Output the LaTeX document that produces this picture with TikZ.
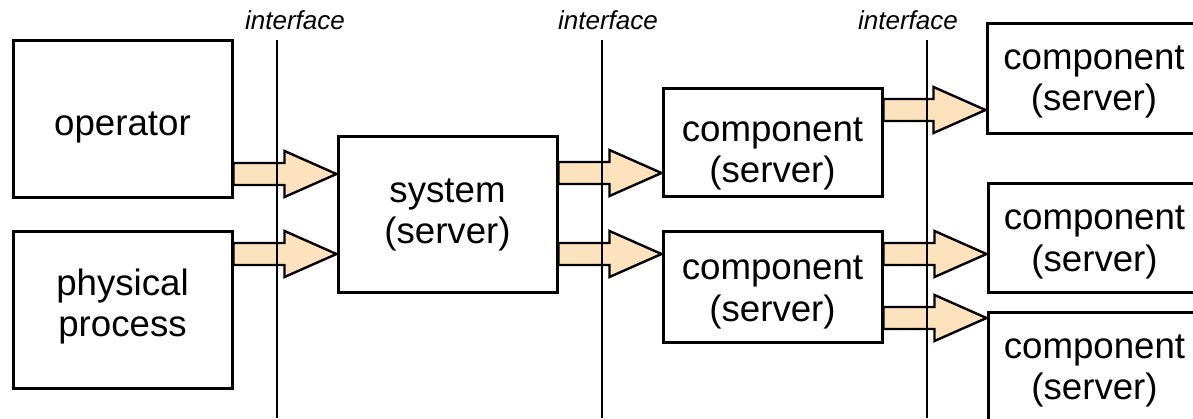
\documentclass[tikz,border=0pt]{standalone}
\usepackage{fontspec}
\setmainfont{Liberation Sans}
\usetikzlibrary{calc}
\definecolor{arrowfill}{RGB}{252,227,190}
\newcommand\pxu{0.75pt}
% wide block arrow from the east side of #1 to the west side of #2 at height #3
\newcommand\fatarrow[3]{%
  \coordinate (fa-y) at (0,#3);
  \coordinate (fa-s) at (#1.east |- fa-y);
  \coordinate (fa-e) at (#2.west |- fa-y);
  \draw[fat] ($(fa-s)+(0,-11)$) -- ($(fa-e)+(-52,-11)$) -- ($(fa-e)+(-52,-23)$)
    -- (fa-e) -- ($(fa-e)+(-52,23)$) -- ($(fa-e)+(-52,11)$) -- ($(fa-s)+(0,11)$) -- cycle;
}
\begin{document}
\begin{tikzpicture}[x=0.75pt,y=-0.75pt,
  box/.style={draw=black, line width=2.25pt, fill=white, inner sep=0pt},
  txt/.style={align=center, font=\fontsize{27.5}{31}\selectfont, inner sep=0pt},
  iface/.style={draw=black, line width=1.5pt},
  ilabel/.style={font=\fontsize{19.5}{22}\selectfont\itshape, anchor=base, inner sep=0pt},
  fat/.style={draw=black, line width=1.8pt, fill=arrowfill, line join=miter}]
\useasboundingbox (0,0) rectangle (1193,418);

% boxes
\node[box, minimum width=219*\pxu, minimum height=157*\pxu] (op) at (122.5,118.5) {};
\node[box, minimum width=219*\pxu, minimum height=157*\pxu] (pp) at (122.5,309.5) {};
\node[box, minimum width=219*\pxu, minimum height=156*\pxu] (sys) at (447.5,214) {};
\node[box, minimum width=219*\pxu, minimum height=108*\pxu] (c1) at (772.5,142) {};
\node[box, minimum width=219*\pxu, minimum height=111*\pxu] (c2) at (772.5,286.5) {};
\node[box, minimum width=214*\pxu, minimum height=110*\pxu] (r1) at (1094,78) {};
\node[box, minimum width=213*\pxu, minimum height=109*\pxu] (r2) at (1094.5,237.5) {};
\node[box, minimum width=213*\pxu, minimum height=110*\pxu] (r3) at (1094.5,367) {};

% box texts
\node[txt] (op-t)  at ($(op)+(0,9)$)   {operator};
\node[txt] (pp-t)  at ($(pp)+(0,-3)$)  {physical\\process};
\node[txt] (sys-t) at ($(sys)+(0,1)$)  {system\\(server)};
\node[txt] (c1-t)  at ($(c1)+(0,12)$)  {component\\(server)};
\node[txt] (c2-t)  at ($(c2)+(0,6)$)   {component\\(server)};
\node[txt] (r1-t)  at ($(r1)+(0,4)$)   {component\\(server)};
\node[txt] (r2-t)  at ($(r2)+(0,5)$)   {component\\(server)};
\node[txt] (r3-t)  at ($(r3)+(0,4)$)   {component\\(server)};

% block arrows
\fatarrow{op}{sys}{174}
\fatarrow{pp}{sys}{254}
\fatarrow{sys}{c1}{173}
\fatarrow{sys}{c2}{254}
\fatarrow{c1}{r1}{110}
\fatarrow{c2}{r2}{254}
\fatarrow{c2}{r3}{318}

% interface lines
\coordinate (i1t) at (277,40);  \coordinate (i1b) at (277,418);
\coordinate (i2t) at (602,40);  \coordinate (i2b) at (602,418);
\coordinate (i3t) at (927,40);  \coordinate (i3b) at (927,418);
\draw[iface] (i1t) -- (i1b);
\draw[iface] (i2t) -- (i2b);
\draw[iface] (i3t) -- (i3b);
\node[ilabel] (l1) at (295,29) {interface};
\node[ilabel] (l2) at (608,29) {interface};
\node[ilabel] (l3) at (908,29) {interface};
\end{tikzpicture}
\end{document}
